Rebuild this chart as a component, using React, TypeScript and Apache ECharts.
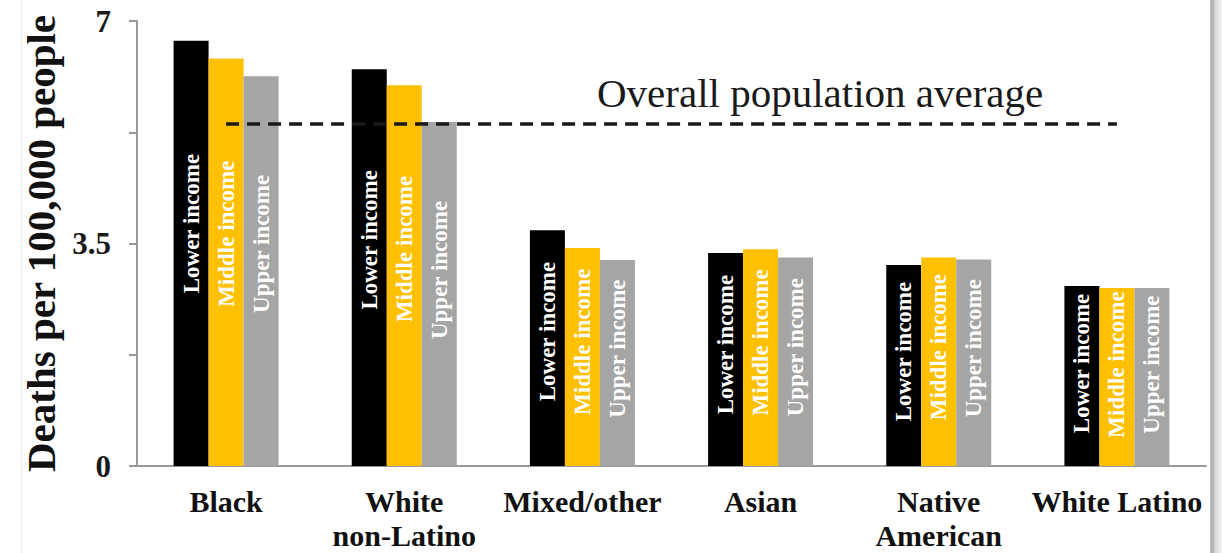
import React, { useEffect, useRef } from "react";
import * as echarts from "echarts";

// Deaths per 100,000 people by race/ethnicity and neighbourhood income
const categories = ["Black", "White\nnon-Latino", "Mixed/other", "Asian", "Native\nAmerican", "White Latino"];
const incomeGroups = ["Lower income", "Middle income", "Upper income"];
const lowerIncome = [6.69, 6.24, 3.71, 3.35, 3.16, 2.83];
const middleIncome = [6.41, 5.99, 3.43, 3.41, 3.28, 2.8];
const upperIncome = [6.13, 5.41, 3.24, 3.28, 3.25, 2.8];
const overallAverage = 5.38;
const averageLabel = "Overall population average";
const yAxisTitle = "Deaths per 100,000 people";
const yLabelledTicks = [0, 3.5, 7];

const SERIF = "'Liberation Serif', 'Times New Roman', serif";
const barColors = ["#000000", "#FFC000", "#A5A5A5"];

export default function App() {
  const ref = useRef<HTMLDivElement>(null);

  useEffect(() => {
    if (!ref.current) return;
    const chart = echarts.init(ref.current, undefined, { renderer: "svg" });

    const values = [lowerIncome, middleIncome, upperIncome];
    const series: any[] = incomeGroups.map((name, i) => ({
      name,
      type: "bar",
      data: values[i],
      barWidth: 35,
      barGap: "0%",
      itemStyle: { color: barColors[i] },
      label: {
        show: true,
        formatter: name,
        position: ["50%", "43%"],
        rotate: 90,
        align: "center",
        verticalAlign: "middle",
        color: "#ffffff",
        fontFamily: SERIF,
        fontWeight: "bold",
        fontSize: 23,
      },
      z: 2,
    }));

    // the middle bar sits on the category centre, so the average line is anchored there
    series[1].markLine = {
      silent: true,
      symbol: "none",
      z: 5,
      label: { show: false },
      lineStyle: { color: "#1a1a1a", width: 3.5, type: [13, 8] },
      data: [[{ coord: [0, overallAverage] }, { coord: [categories.length - 1, overallAverage] }]],
    };

    chart.setOption({
      animation: false,
      backgroundColor: "#ffffff",
      grid: { left: 137, right: 16, top: 21, bottom: 87, containLabel: false },
      xAxis: {
        type: "category",
        data: categories,
        axisLine: { show: true, lineStyle: { color: "#9a9a9a", width: 2 } },
        axisTick: { show: false },
        axisLabel: {
          interval: 0,
          margin: 18,
          color: "#111111",
          fontFamily: SERIF,
          fontWeight: "bold",
          fontSize: 30,
          lineHeight: 34,
        },
      },
      yAxis: {
        type: "value",
        min: 0,
        max: 7,
        interval: 1.75,
        name: yAxisTitle,
        nameLocation: "middle",
        nameGap: 76,
        nameTextStyle: {
          color: "#111111",
          fontFamily: SERIF,
          fontWeight: "bold",
          fontSize: 41,
        },
        axisLine: { show: true, lineStyle: { color: "#9a9a9a", width: 2 } },
        axisTick: { show: true, length: 8, lineStyle: { color: "#9a9a9a", width: 2 } },
        splitLine: { show: false },
        axisLabel: {
          margin: 26,
          color: "#1a1a1a",
          fontFamily: SERIF,
          fontWeight: "bold",
          fontSize: 31,
          formatter: (v: number) => (yLabelledTicks.includes(v) ? String(v) : ""),
        },
      },
      graphic: [
        {
          type: "text",
          left: 597,
          top: 72,
          style: {
            text: averageLabel,
            fill: "#1a1a1a",
            font: `41px ${SERIF}`,
          },
          z: 10,
        },
        // page frame
        { type: "rect", shape: { x: 21, y: 0, width: 1, height: 553 }, style: { fill: "#ececec" }, z: 0 },
        { type: "rect", shape: { x: 1210, y: 0, width: 4, height: 553 }, style: { fill: "#b8b8b8" }, z: 10 },
        {
          type: "rect",
          shape: { x: 1214, y: 0, width: 8, height: 553 },
          style: {
            fill: new echarts.graphic.LinearGradient(0, 0, 1, 0, [
              { offset: 0, color: "#d0d0d0" },
              { offset: 1, color: "#f4f4f4" },
            ]),
          },
          z: 10,
        },
      ],
      series,
    });

    return () => chart.dispose();
  }, []);

  return (
    <div
      ref={ref}
      style={{ position: "fixed", left: 0, top: 0, width: 1222, height: 553, background: "#fff" }}
    />
  );
}
